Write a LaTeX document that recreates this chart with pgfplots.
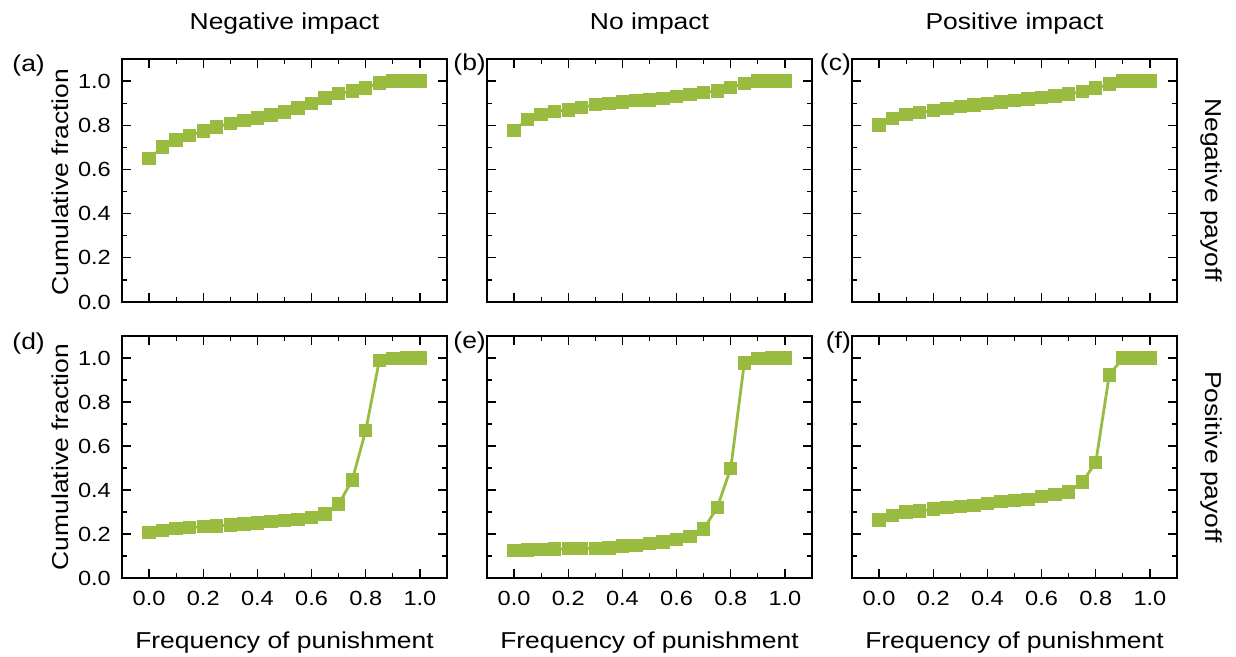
\documentclass[border=0pt]{standalone}
\usepackage{fontspec}
\setmainfont[FakeStretch=1.15]{Liberation Sans}
\usepackage{pgfplots}
\pgfplotsset{compat=1.18}
\definecolor{olivegreen}{RGB}{152,187,64}

\pgfplotsset{
  panel/.style={
    scale only axis, width=325pt, height=243pt,
    xmin=-0.1, xmax=1.1, ymin=0, ymax=1.1,
    xtick={0,0.2,0.4,0.6,0.8,1}, ytick={0,0.2,0.4,0.6,0.8,1},
    minor x tick num=1, minor y tick num=1,
    tick align=inside, major tick length=9pt, minor tick length=5pt,
    axis line style={line width=1.3pt},
    tick style={black, line width=1.2pt},
    tick label style={font=\fontsize{20.5}{24}\selectfont},
    /pgf/number format/assume math mode=true,
    /pgf/number format/fixed, /pgf/number format/fixed zerofill,
    /pgf/number format/precision=1,
    yticklabel style={inner sep=0pt, anchor=east, xshift=-11pt},
    xticklabel style={inner sep=0pt, anchor=north, yshift=-13pt},
    xlabel style={at={(axis description cs:0.5,0)}, anchor=base, yshift=-70pt,
      font=\fontsize{23}{27}\selectfont},
    title style={at={(axis description cs:0.5,1)}, anchor=base, yshift=24pt,
      font=\fontsize{23}{27}\selectfont},
  },
  series/.style={color=olivegreen, line width=2.8pt, mark=square*,
    mark size=5.3pt, mark options={solid}},
}

\begin{document}
\begin{tikzpicture}
\useasboundingbox (0pt,0pt) rectangle (1236pt,-656pt);

% (a)
\begin{axis}[panel, at={(122pt,-59pt)}, anchor=north west, xticklabels={},
  title={Negative impact}]
\addplot[series] coordinates {
(0,0.649)(0.05,0.701)(0.1,0.733)(0.15,0.754)(0.2,0.774)(0.25,0.793)(0.3,0.808)
(0.35,0.821)(0.4,0.833)(0.45,0.846)(0.5,0.861)(0.55,0.878)(0.6,0.899)(0.65,0.923)
(0.7,0.943)(0.75,0.955)(0.8,0.968)(0.85,0.991)(0.9,1.0)(0.95,1.0)(1.0,1.0)};
\end{axis}

% (b)
\begin{axis}[panel, at={(487pt,-59pt)}, anchor=north west, xticklabels={},
  yticklabels={}, title={No impact}]
\addplot[series] coordinates {
(0,0.777)(0.05,0.827)(0.1,0.848)(0.15,0.863)(0.2,0.870)(0.25,0.881)(0.3,0.893)
(0.35,0.899)(0.4,0.905)(0.45,0.911)(0.5,0.914)(0.55,0.922)(0.6,0.929)(0.65,0.940)
(0.7,0.949)(0.75,0.956)(0.8,0.971)(0.85,0.988)(0.9,1.0)(0.95,1.0)(1.0,1.0)};
\end{axis}

% (c)
\begin{axis}[panel, at={(852pt,-59pt)}, anchor=north west, xticklabels={},
  yticklabels={}, title={Positive impact}]
\addplot[series] coordinates {
(0,0.801)(0.05,0.830)(0.1,0.848)(0.15,0.857)(0.2,0.867)(0.25,0.875)(0.3,0.884)
(0.35,0.891)(0.4,0.899)(0.45,0.906)(0.5,0.912)(0.55,0.919)(0.6,0.926)(0.65,0.932)
(0.7,0.941)(0.75,0.953)(0.8,0.968)(0.85,0.986)(0.9,1.0)(0.95,1.0)(1.0,1.0)};
\end{axis}

% (d)
\begin{axis}[panel, at={(122pt,-336pt)}, anchor=north west, height=242pt,
  xlabel={Frequency of punishment}]
\addplot[series] coordinates {
(0,0.208)(0.05,0.217)(0.1,0.224)(0.15,0.229)(0.2,0.234)(0.25,0.237)(0.3,0.241)
(0.35,0.246)(0.4,0.250)(0.45,0.256)(0.5,0.261)(0.55,0.267)(0.6,0.275)(0.65,0.291)
(0.7,0.336)(0.75,0.445)(0.8,0.671)(0.85,0.988)(0.9,0.998)(0.95,1.0)(1.0,1.0)};
\end{axis}

% (e)
\begin{axis}[panel, at={(487pt,-336pt)}, anchor=north west, height=242pt,
  yticklabels={}, xlabel={Frequency of punishment}]
\addplot[series] coordinates {
(0,0.124)(0.05,0.128)(0.1,0.130)(0.15,0.131)(0.2,0.133)(0.25,0.134)(0.3,0.134)
(0.35,0.137)(0.4,0.145)(0.45,0.149)(0.5,0.157)(0.55,0.164)(0.6,0.175)(0.65,0.189)
(0.7,0.223)(0.75,0.320)(0.8,0.499)(0.85,0.977)(0.9,0.998)(0.95,1.0)(1.0,1.0)};
\end{axis}

% (f)
\begin{axis}[panel, at={(852pt,-336pt)}, anchor=north west, height=242pt,
  yticklabels={}, xlabel={Frequency of punishment}]
\addplot[series] coordinates {
(0,0.264)(0.05,0.284)(0.1,0.300)(0.15,0.305)(0.2,0.314)(0.25,0.321)(0.3,0.325)
(0.35,0.330)(0.4,0.339)(0.45,0.347)(0.5,0.351)(0.55,0.357)(0.6,0.370)(0.65,0.379)
(0.7,0.391)(0.75,0.436)(0.8,0.525)(0.85,0.923)(0.9,1.0)(0.95,1.0)(1.0,1.0)};
\end{axis}

% labels around the panels
\begin{scope}[every node/.style={font=\fontsize{23}{27}\selectfont, inner sep=0pt}]
\node[rotate=90, anchor=base] at (68pt,-182pt) {Cumulative fraction};
\node[rotate=90, anchor=base] at (68pt,-457pt) {Cumulative fraction};
\node[rotate=-90, anchor=base] at (1205pt,-190pt) {Negative payoff};
\node[rotate=-90, anchor=base] at (1205pt,-457pt) {Positive payoff};
\node[anchor=base east] at (45pt,-71pt) {(a)};
\node[anchor=base east] at (486pt,-70pt) {(b)};
\node[anchor=base east] at (851pt,-70pt) {(c)};
\node[anchor=base east] at (45pt,-349pt) {(d)};
\node[anchor=base east] at (486pt,-348pt) {(e)};
\node[anchor=base east] at (851pt,-348pt) {(f)};
\end{scope}
\end{tikzpicture}
\end{document}
